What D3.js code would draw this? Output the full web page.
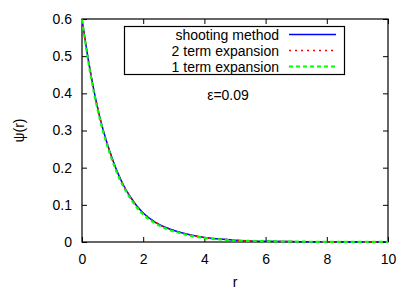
<!DOCTYPE html>
<html>
<head>
<meta charset="utf-8">
<script src="https://cdn.jsdelivr.net/npm/d3@7"></script>
<style>
  body { margin: 0; background: #fff; }
  text { font-family: "Liberation Sans", Arial, sans-serif; font-size: 14px; fill: #000; }
</style>
</head>
<body>
<div id="chart"></div>
<script>
var width = 415;
var height = 291;
var margin = { top: 19, right: 27, bottom: 49, left: 82 };
var graphWidth = width - margin.left - margin.right;
var graphHeight = height - margin.top - margin.bottom;

// values
var rValues = [0, 0.1, 0.2, 0.3, 0.4, 0.5, 0.6, 0.8, 1.0, 1.2, 1.4, 1.6, 1.8, 2.0, 2.4, 2.8, 3.2, 3.6, 4.0, 4.5, 5.0, 5.5, 6, 7, 8, 9, 10];
var shooting = [0.600, 0.545, 0.493, 0.446, 0.403, 0.365, 0.330, 0.271, 0.222, 0.180, 0.146, 0.119, 0.096, 0.078, 0.053, 0.037, 0.026, 0.018, 0.012, 0.008, 0.005, 0.003, 0.002, 0.001, 0.0004, 0.0002, 0.0001];
var twoTerm = [0.600, 0.545, 0.493, 0.446, 0.403, 0.365, 0.330, 0.271, 0.222, 0.180, 0.146, 0.119, 0.096, 0.078, 0.053, 0.037, 0.026, 0.018, 0.012, 0.008, 0.005, 0.003, 0.002, 0.001, 0.0004, 0.0002, 0.0001];
var oneTerm = [0.598, 0.542, 0.489, 0.441, 0.398, 0.360, 0.325, 0.266, 0.217, 0.175, 0.142, 0.115, 0.092, 0.074, 0.050, 0.034, 0.024, 0.016, 0.011, 0.007, 0.004, 0.003, 0.002, 0.001, 0.0004, 0.0002, 0.0001];
var xTicks = [0, 2, 4, 6, 8, 10];
var yTicks = [0, 0.1, 0.2, 0.3, 0.4, 0.5, 0.6];
var seriesNames = ['shooting method', '2 term expansion', '1 term expansion'];
var seriesColors = ['#0000ff', '#ff0000', '#00ff00'];
var seriesDash = [null, '2,4', '4,3'];
var seriesWidth = [1.5, 1.5, 2.2];
var epsLabel = 'ε=0.09';

var svg = d3
  .select('#chart')
  .append('svg')
  .attr('width', width)
  .attr('height', height);

var graph = svg
  .append('g')
  .attr('transform', 'translate(' + margin.left + ',' + margin.top + ')');

var x = d3.scaleLinear().domain([0, 10]).range([0, graphWidth]);
var y = d3.scaleLinear().domain([0, 0.6]).range([graphHeight, 0]);

// axes with inward ticks, mirrored on top and right
var tickLen = 5;
graph
  .append('g')
  .attr('transform', 'translate(0,' + graphHeight + ')')
  .call(d3.axisBottom(x).tickValues(xTicks).tickSize(-tickLen).tickPadding(12).tickFormat(d3.format('d')));
graph
  .append('g')
  .call(d3.axisTop(x).tickValues(xTicks).tickSize(-tickLen).tickFormat(''));
graph
  .append('g')
  .call(d3.axisLeft(y).tickValues(yTicks).tickSize(-tickLen).tickPadding(10).tickFormat(function (d) { return d === 0 ? '0' : d3.format('.1f')(d); }));
graph
  .append('g')
  .attr('transform', 'translate(' + graphWidth + ',0)')
  .call(d3.axisRight(y).tickValues(yTicks).tickSize(-tickLen).tickFormat(''));

graph.selectAll('.domain').remove();
graph.selectAll('.tick line').attr('stroke', '#000').attr('stroke-width', 1);
graph.selectAll('.tick text').style('font-size', '14px').attr('fill', '#000');

graph
  .append('rect')
  .attr('x', 0)
  .attr('y', 0)
  .attr('width', graphWidth)
  .attr('height', graphHeight)
  .attr('fill', 'none')
  .attr('stroke', '#000')
  .attr('stroke-width', 1.2);

// axis titles
svg
  .append('text')
  .attr('x', margin.left + graphWidth / 2)
  .attr('y', 287)
  .attr('text-anchor', 'middle')
  .text('r');

svg
  .append('text')
  .attr('transform', 'translate(24,' + (margin.top + graphHeight / 2) + ') rotate(-90)')
  .attr('text-anchor', 'middle')
  .text('ψ(r)');

// curves
var allSeries = [shooting, twoTerm, oneTerm];
var line = d3
  .line()
  .x(function (d, i) { return x(rValues[i]); })
  .y(function (d) { return y(d); })
  .curve(d3.curveMonotoneX);

allSeries.forEach(function (s, k) {
  graph
    .append('path')
    .datum(s)
    .attr('d', line)
    .attr('fill', 'none')
    .attr('stroke', seriesColors[k])
    .attr('stroke-width', seriesWidth[k])
    .attr('stroke-dasharray', seriesDash[k]);
});

// legend box
var legend = svg.append('g');
legend
  .append('rect')
  .attr('x', 124.5)
  .attr('y', 26.5)
  .attr('width', 220)
  .attr('height', 48)
  .attr('fill', '#fff')
  .attr('stroke', '#000')
  .attr('stroke-width', 1.2);

seriesNames.forEach(function (name, k) {
  var ly = 34.5 + k * 16;
  legend
    .append('text')
    .attr('x', 279)
    .attr('y', ly + 5)
    .attr('text-anchor', 'end')
    .text(name);
  legend
    .append('line')
    .attr('x1', 289)
    .attr('x2', 336)
    .attr('y1', ly)
    .attr('y2', ly)
    .attr('stroke', seriesColors[k])
    .attr('stroke-width', seriesWidth[k])
    .attr('stroke-dasharray', seriesDash[k]);
});

svg
  .append('text')
  .attr('x', 228)
  .attr('y', 100)
  .attr('text-anchor', 'middle')
  .text(epsLabel);
</script>
</body>
</html>
